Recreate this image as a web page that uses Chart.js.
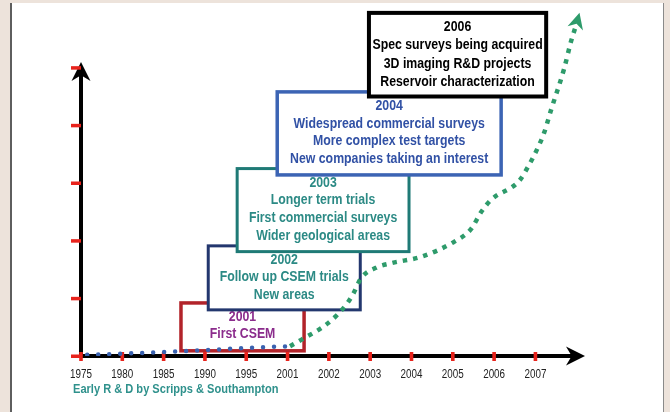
<!DOCTYPE html>
<html>
<head>
<meta charset="utf-8">
<script src="https://cdn.jsdelivr.net/npm/chart.js@4.4.1/dist/chart.umd.min.js"></script>
<style>
  html, body { margin: 0; padding: 0; background: #ede3db; }
  #panel { position: absolute; left: 10px; top: 3px; width: 651px; height: 420px; background: #fff;
           border-left: 2px solid #5e5e5e; border-right: 1px solid #8a8a8a; }
  #chart { position: absolute; left: 0; top: 0; }
</style>
</head>
<body>
<div id="panel"></div>
<canvas id="chart" width="670" height="412"></canvas>
<script>
const yearLabels = ['1975', '1980', '1985', '1990', '1995', '2001', '2002', '2003', '2004', '2005', '2006', '2007'];

// early research phase (blue dots), x = position on the year axis
const earlyIdx = [0.15, 1, 2, 3, 4, 5.06];
const earlyVal = [0.02, 0.04, 0.07, 0.10, 0.14, 0.17];

// commercial growth (green dots)
const growthIdx = [5.06, 5.33, 5.98, 6.42, 6.59, 6.78, 7.14, 7.51, 8.23, 9.03, 9.44, 9.69, 9.93, 10.61, 10.82, 11.07, 11.21, 11.38, 11.69, 11.86, 11.99];
const growthVal = [0.17, 0.28, 0.57, 0.89, 1.08, 1.35, 1.53, 1.61, 1.72, 1.98, 2.20, 2.50, 2.71, 3.04, 3.28, 3.63, 3.87, 4.27, 4.97, 5.45, 5.75];

const milestoneYears = ['2001', '2002', '2003', '2004', '2006'];
const milestoneText = [
  ['First CSEM'],
  ['Follow up CSEM trials', 'New areas'],
  ['Longer term trials', 'First commercial surveys', 'Wider geological areas'],
  ['Widespread commercial surveys', 'More complex test targets', 'New companies taking an interest'],
  ['Spec surveys being acquired', '3D imaging R&D projects', 'Reservoir characterization']
];

const FONT = '"Liberation Sans", Arial, sans-serif';
const SQUEEZE = 0.82; // the original lettering is a narrow face

// box frames in axis units: [left, right, top, bottom], plus colours
const boxes = [
  { r: [2.42, 5.40, 0.92, 0.09], stroke: '#b2232a', text: '#8b2c8c', lw: 3.5, gap: 16.5 },
  { r: [3.08, 6.76, 1.91, 0.80], stroke: '#23376e', text: '#2c8a85', lw: 3, gap: 17.5 },
  { r: [3.78, 7.94, 3.25, 1.81], stroke: '#1f7a76', text: '#2c8a85', lw: 3, gap: 17.7 },
  { r: [4.75, 10.17, 4.58, 3.14], stroke: '#3c64b4', text: '#3151a5', lw: 3.5, gap: 17.7 },
  { r: [6.97, 11.26, 5.95, 4.50], stroke: '#000000', text: '#000000', lw: 4, gap: 18.3 }
];

function narrowText(ctx, s, x, y, align) {
  ctx.save();
  ctx.translate(x, y);
  ctx.scale(SQUEEZE, 1);
  ctx.textAlign = align;
  ctx.textBaseline = 'middle';
  ctx.fillText(s, 0, 0);
  ctx.restore();
}

function arrowHead(ctx, x, y, ang, len, half, color) {
  ctx.save();
  ctx.translate(x, y);
  ctx.rotate(ang);
  ctx.fillStyle = color;
  ctx.beginPath();
  ctx.moveTo(0, 0);
  ctx.lineTo(-len, -half);
  ctx.lineTo(-len * 0.7, 0);
  ctx.lineTo(-len, half);
  ctx.closePath();
  ctx.fill();
  ctx.restore();
}

const decor = {
  id: 'decor',
  beforeDatasetsDraw(chart) {
    const { ctx, scales: { x, y } } = chart;
    // milestone boxes
    boxes.forEach((b, i) => {
      const l = x.getPixelForValue(b.r[0]), rr = x.getPixelForValue(b.r[1]);
      const t = y.getPixelForValue(b.r[2]), bt = y.getPixelForValue(b.r[3]);
      ctx.save();
      ctx.fillStyle = '#fff';
      ctx.fillRect(l, t, rr - l, bt - t);
      ctx.strokeStyle = b.stroke;
      ctx.lineWidth = b.lw;
      ctx.strokeRect(l, t, rr - l, bt - t);
      ctx.fillStyle = b.text;
      ctx.font = 'bold 15px ' + FONT;
      const lines = [milestoneYears[i]].concat(milestoneText[i]);
      lines.forEach((s, k) => narrowText(ctx, s, (l + rr) / 2, t + 14 + k * b.gap, 'center'));
      ctx.restore();
    });

    // axes
    const x0 = x.getPixelForValue(0), y0 = y.getPixelForValue(0);
    const yTop = y.getPixelForValue(5.1), xEnd = x.getPixelForValue(12.2);
    ctx.save();
    ctx.strokeStyle = '#000';
    ctx.lineWidth = 4;
    ctx.beginPath();
    ctx.moveTo(x0, y0);
    ctx.lineTo(x0, yTop + 10);
    ctx.moveTo(x0 - 2, y0);
    ctx.lineTo(xEnd - 10, y0);
    ctx.stroke();
    arrowHead(ctx, x0, yTop, -Math.PI / 2, 19, 9.5, '#000');
    arrowHead(ctx, xEnd, y0, 0, 19, 9.5, '#000');

    // red tick marks
    ctx.fillStyle = '#e8231c';
    for (let v = 0; v <= 5; v++) {
      const py = y.getPixelForValue(v);
      ctx.fillRect(x0 - 10, py - 1.5, 10, 3.5);
    }
    for (let i = 0; i < yearLabels.length; i++) {
      const px = x.getPixelForValue(i);
      ctx.fillRect(px - 1.8, y0 - 4, 3.6, 9);
    }
    ctx.restore();
  },
  afterDatasetsDraw(chart) {
    const { ctx, scales: { x, y } } = chart;
    const n = growthIdx.length;
    const px = x.getPixelForValue(growthIdx[n - 1]), py = y.getPixelForValue(growthVal[n - 1]);
    const qx = x.getPixelForValue(growthIdx[n - 3]), qy = y.getPixelForValue(growthVal[n - 3]);
    const ang = Math.atan2(py - qy, px - qx);
    arrowHead(ctx, px + Math.cos(ang) * 12, py + Math.sin(ang) * 12, ang, 16, 8, '#2e9b6b');
  },
  afterDraw(chart) {
    const { ctx, scales: { x, y } } = chart;
    ctx.save();
    // year labels under the axis
    ctx.fillStyle = '#222';
    ctx.font = '12px ' + FONT;
    const ly = y.getPixelForValue(0) + 19;
    yearLabels.forEach((s, i) => narrowText(ctx, s, x.getPixelForValue(i), ly, 'center'));
    ctx.fillStyle = '#2f918c';
    ctx.font = 'bold 13.5px ' + FONT;
    narrowText(ctx, 'Early R & D by Scripps & Southampton', 73, 389, 'left');
    ctx.restore();
  }
};

new Chart(document.getElementById('chart'), {
  type: 'line',
  data: {
    datasets: [
      {
        label: 'Early R & D',
        data: earlyIdx.map((v, i) => ({ x: v, y: earlyVal[i] })),
        borderColor: '#3a62b0',
        borderWidth: 4.5,
        borderCapStyle: 'round',
        borderDash: [0, 11],
        pointRadius: 0,
        cubicInterpolationMode: 'monotone'
      },
      {
        label: 'Commercial CSEM',
        data: growthIdx.map((v, i) => ({ x: v, y: growthVal[i] })),
        borderColor: '#2e9b6b',
        borderWidth: 4.5,
        borderDash: [4.5, 6],
        pointRadius: 0,
        cubicInterpolationMode: 'monotone'
      }
    ]
  },
  options: {
    responsive: false,
    animation: false,
    layout: { padding: { left: 81, right: 85, top: 10, bottom: 56 } },
    plugins: {
      legend: { display: false },
      tooltip: { enabled: false }
    },
    scales: {
      x: {
        type: 'linear',
        display: false,
        min: 0,
        max: 12.2,
        ticks: { stepSize: 1 }
      },
      y: {
        display: false,
        min: 0,
        max: 6
      }
    }
  },
  plugins: [decor]
});
</script>
</body>
</html>
